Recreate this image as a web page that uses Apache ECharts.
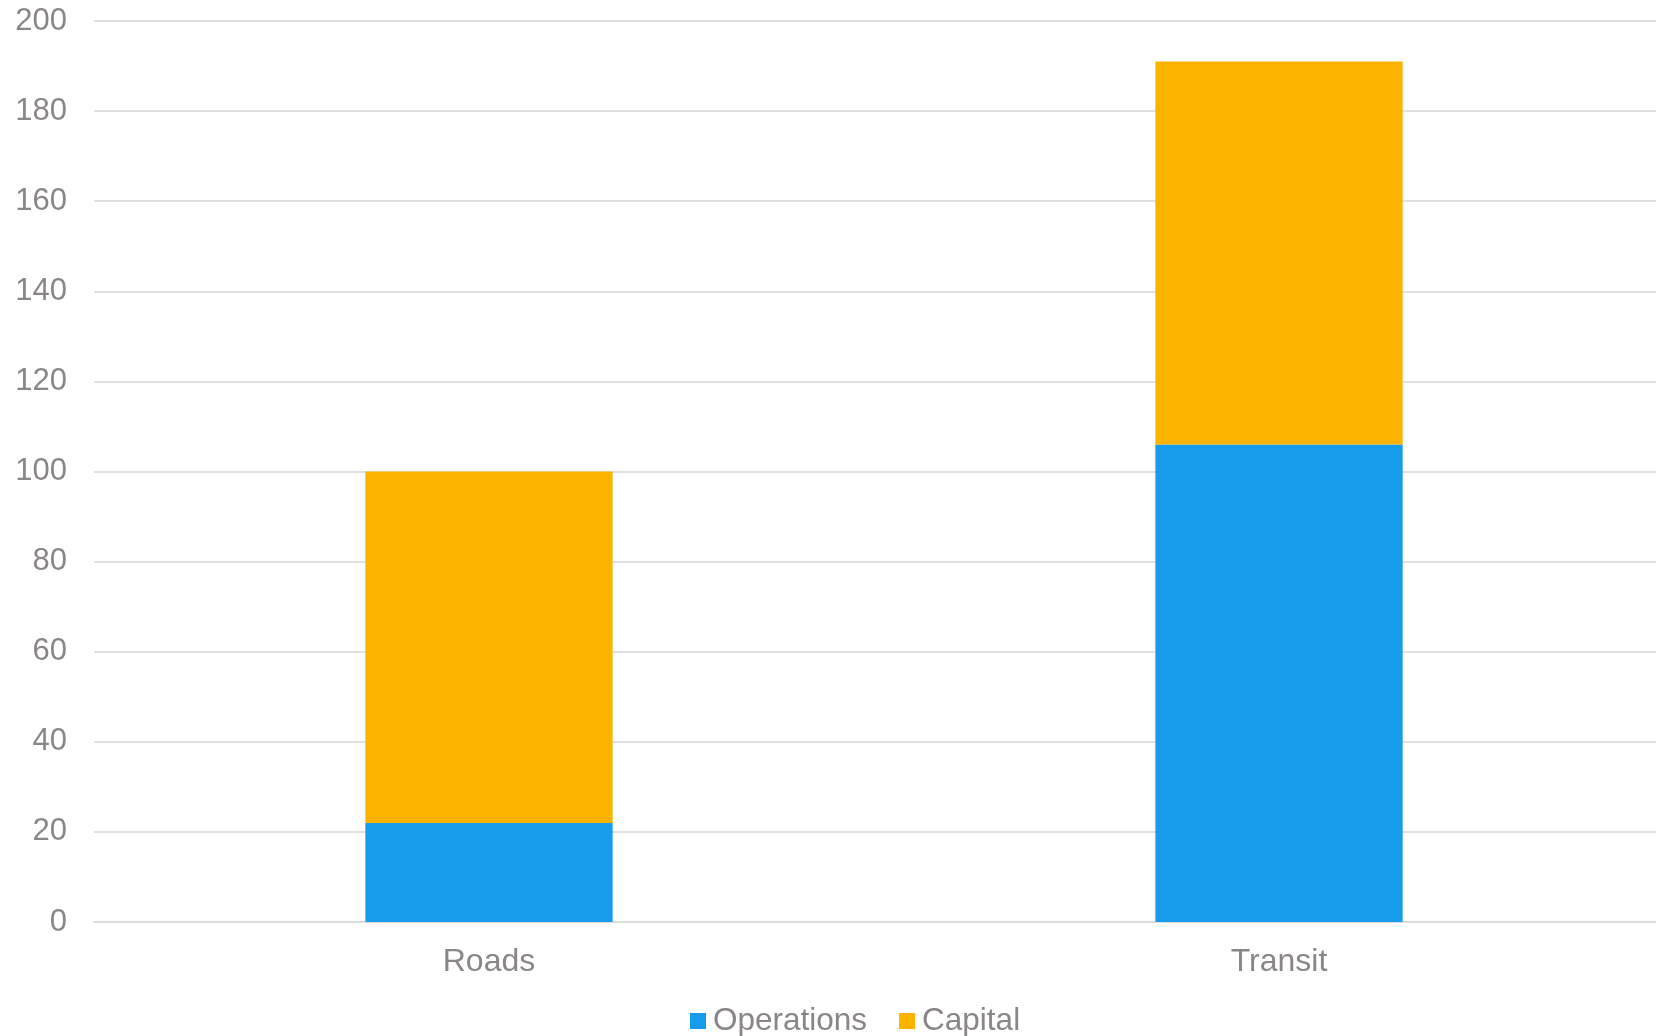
<!DOCTYPE html>
<html>
<head>
<meta charset="utf-8">
<script src="https://cdn.jsdelivr.net/npm/echarts@6/dist/echarts.min.js"></script>
<style>html,body{margin:0;padding:0;background:#fff}#c{width:1656px;height:1036px}</style>
</head>
<body>
<div id="c"></div>
<script>
const categories = ['Roads', 'Transit'];
const operations = [22, 106];
const capital = [78, 85];
const yTicks = [0, 200, 20];

const chart = echarts.init(document.getElementById('c'), null, {renderer: 'canvas'});
const txt = '#8a8587';
const font = 'Liberation Sans, Arial, sans-serif';
chart.setOption({
  animation: false,
  textStyle: {fontFamily: font},
  grid: {left: 94, top: 21, right: -18, bottom: 114, containLabel: false, outerBoundsMode: 'none'},
  legend: {
    data: ['Operations', 'Capital'],
    top: 1005,
    left: 690,
    padding: 0,
    itemWidth: 16, itemHeight: 16, itemGap: 32,
    icon: 'rect',
    textStyle: {color: txt, fontSize: 31.5, fontFamily: font, padding: [0, 0, 0, 2]}
  },
  xAxis: {
    type: 'category',
    data: categories,
    axisLine: {lineStyle: {color: '#dcdcdc', width: 2}},
    axisTick: {show: false},
    axisLabel: {color: txt, fontSize: 32, fontFamily: font, margin: 24}
  },
  yAxis: {
    type: 'value',
    min: yTicks[0], max: yTicks[1], interval: yTicks[2],
    axisLine: {show: false},
    axisTick: {show: false},
    splitLine: {lineStyle: {color: '#e0e0e0', width: 2}},
    axisLabel: {color: txt, fontSize: 31, fontFamily: font, margin: 27}
  },
  series: [
    {name: 'Operations', type: 'bar', stack: 'a', data: operations, barWidth: '31.3%', itemStyle: {color: '#169cea'}},
    {name: 'Capital', type: 'bar', stack: 'a', data: capital, barWidth: '31.3%', itemStyle: {color: '#fbb300'}}
  ]
});
</script>
</body>
</html>
